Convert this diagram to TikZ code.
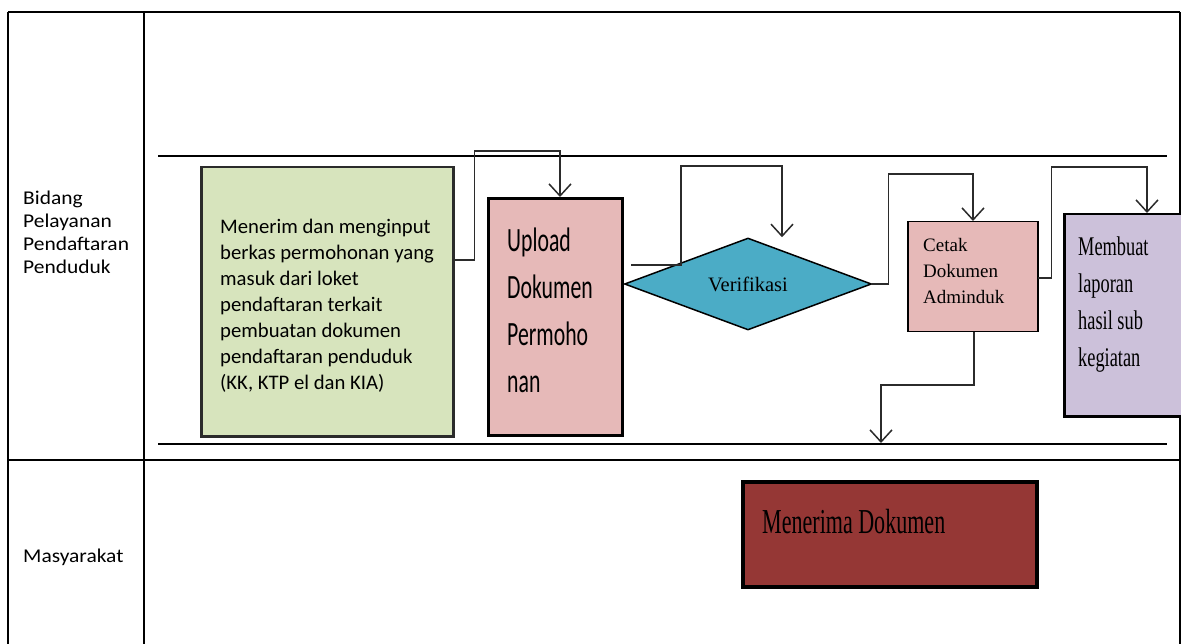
\documentclass[tikz,border=0pt]{standalone}
\usepackage{fontspec}
\setmainfont{Carlito}
\newfontfamily\lanefont[FakeStretch=1.1]{Carlito}
\newfontfamily\condsans[FakeStretch=0.64]{Carlito}
\newfontfamily\serifface{Liberation Serif}
\newfontfamily\condserif[FakeStretch=0.68]{Liberation Serif}
\newfontfamily\narrowserif[FakeStretch=0.63]{Liberation Serif}
\usetikzlibrary{arrows.meta,shapes.geometric,calc}
\definecolor{boxgreen}{HTML}{D7E4BD}
\definecolor{boxpink}{HTML}{E6B9B8}
\definecolor{boxblue}{HTML}{4BACC6}
\definecolor{boxpurple}{HTML}{CCC1DA}
\definecolor{boxred}{HTML}{953735}
\definecolor{linegray}{HTML}{2B2B2B}
\tikzset{
  grid/.style={line width=2pt, black},
  box/.style={draw, rectangle, inner sep=0pt, anchor=north west},
  txt/.style={inner sep=0pt, align=left, anchor=west},
  conn/.style={line width=1.5pt, draw=linegray, -{Straight Barb[length=12pt,width=22pt,line width=1.5pt]}},
}
\begin{document}
\begin{tikzpicture}[x=1pt,y=-1pt]
\useasboundingbox (0,0) rectangle (1181,644);
% table
\draw[grid] (8,12) -- (1180,12);
\draw[grid] (8,12) -- (8,644);
\draw[grid] (144,12) -- (144,644);
\draw[grid] (1180,12) -- (1180,644);
\draw[grid] (8,460) -- (1180,460);
% lane lines
\draw[grid] (158,156) -- (1167,156);
\draw[grid] (158,444) -- (1167,444);
% lane labels
\node[txt, font=\lanefont\fontsize{19.5}{23}\selectfont] (l1) at (23,232) {Bidang\\Pelayanan\\Pendaftaran\\Penduduk};
\node[txt, font=\lanefont\fontsize{19.5}{23}\selectfont] (l2) at (23,557) {Masyarakat};
% boxes
\node[box, fill=boxgreen, draw=linegray, line width=2.5pt, minimum width=252, minimum height=269] (g) at (200,166) {};
\node[txt, font=\fontsize{20.7}{26}\selectfont] (gt) at (220,306) {Menerim dan menginput\\berkas permohonan yang\\masuk dari loket\\pendaftaran terkait\\pembuatan dokumen\\pendaftaran penduduk\\(KK, KTP el dan KIA)};
\node[box, fill=boxpink, draw=black, line width=3pt, minimum width=134, minimum height=237] (u) at (487,197) {};
\node[txt, font=\condsans\fontsize{34}{47}\selectfont] (ut) at (507,310) {Upload\\Dokumen\\Permoho\\nan};
\node[diamond, aspect=2.68, fill=boxblue, draw=black, line width=1.5pt, inner sep=0pt, minimum width=247, minimum height=92, font=\serifface\fontsize{20.5}{24}\selectfont] (v) at (748,284) {Verifikasi};
\node[box, fill=boxpink, draw=black, line width=1.5pt, minimum width=130, minimum height=110] (c) at (907,221) {};
\node[txt, font=\serifface\fontsize{19}{26}\selectfont] (ct) at (923,271) {Cetak\\Dokumen\\Adminduk};
\node[box, fill=boxpurple, draw=black, line width=2.5pt, minimum width=122, minimum height=202] (m) at (1063,213) {};
\node[txt, font=\condserif\fontsize{27}{37}\selectfont] (mt) at (1078,305) {Membuat\\laporan\\hasil sub\\kegiatan};
\node[box, fill=boxred, draw=black, line width=4pt, minimum width=294, minimum height=105] (r) at (741,480) {};
\node[txt, font=\narrowserif\fontsize{35}{40}\selectfont] (rt) at (762,522) {Menerima Dokumen};
% connectors
\draw[conn] ($(g.north east)+(0,94)$) -| ++(20,-109) -| ($(u.north west)+(73,0)$);
\draw[conn] ($(u.north east)+(7,68)$) -| ++(50,-99) -| ($(v.north)+(34,0)$);
\draw[conn] (v.east) -| ++(16,-110) -| ($(c.north west)+(66,0)$);
\draw[conn] ($(c.north east)+(-1,57)$) -| ++(14,-111) -| ($(m.north west)+(84,0)$);
\coordinate (e) at (881,443);
\draw[conn] ($(c.south west)+(67,0)$) |- ($(e)+(0,-58)$) -- (e);
\end{tikzpicture}
\end{document}
